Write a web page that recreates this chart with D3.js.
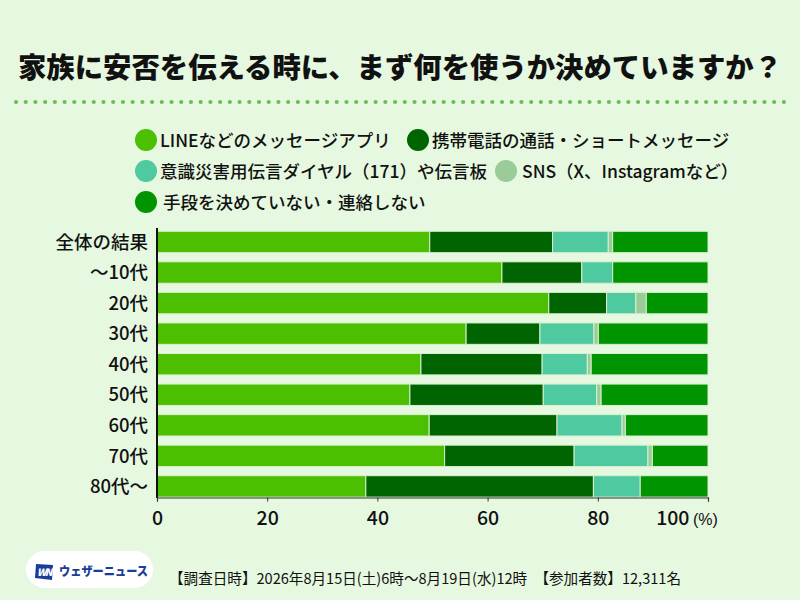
<!DOCTYPE html>
<html><head><meta charset="utf-8">
<script src="https://cdn.jsdelivr.net/npm/d3@7"></script>
<style>body{margin:0;background:#e6f8e0;}svg{display:block;}</style>
</head><body>
<svg id="c" width="800" height="600"></svg>
<script>
const categories = ["全体の結果","～10代","20代","30代","40代","50代","60代","70代","80代～"];
const seriesNames = ["LINEなどのメッセージアプリ","携帯電話の通話・ショートメッセージ","意識災害用伝言ダイヤル（171）や伝言板","SNS（X、Instagramなど）","手段を決めていない・連絡しない"];
const seriesColors = ["#4cbf00","#006400","#4fc9a0","#99cc99","#009400"];
const lineApp   = [49.5, 62.6, 71.1, 56.1, 47.9, 45.9, 49.4, 52.2, 37.9];
const phoneCall = [22.3, 14.5, 10.5, 13.4, 22.0, 24.2, 23.2, 23.5, 41.3];
const dial171   = [10.1,  5.6,  5.3,  9.8,  8.2,  9.7, 11.8, 13.4,  8.5];
const sns       = [ 0.8,  0.0,  1.9,  0.8,  0.7,  0.8,  0.6,  0.8,  0.0];
const undecided = [17.3, 17.3, 11.2, 19.9, 21.2, 19.4, 15.0, 10.1, 12.3];
const xTicks = [0,20,40,60,80,100];
const title = "家族に安否を伝える時に、まず何を使うか決めていますか？";
const footer = "【調査日時】2026年8月15日(土)6時～8月19日(水)12時　【参加者数】12,311名";

const FONT = "'Noto Sans CJK JP','Noto Sans',sans-serif";
const svg = d3.select("#c").style("font-family", FONT);
svg.append("rect").attr("width",800).attr("height",600).attr("fill","#e6f8e0");

// title
svg.append("text").attr("x",400).attr("y",78).attr("text-anchor","middle")
  .attr("font-size",28.5).attr("font-weight",900).attr("fill","#111")
  .attr("textLength",764).attr("lengthAdjust","spacingAndGlyphs").text(title);
// dotted rule
svg.append("line").attr("x1",16).attr("x2",786).attr("y1",102).attr("y2",102)
  .attr("stroke","#6dbd55").attr("stroke-width",4.2).attr("stroke-linecap","round")
  .attr("stroke-dasharray","0 9.72");

// legend
const legendPos = [[146,140],[418,140],[146,171],[506,171],[146,202]];
const lg = svg.append("g");
seriesNames.forEach((n,i)=>{
  const [cx,cy] = legendPos[i];
  lg.append("circle").attr("cx",cx).attr("cy",cy).attr("r",11).attr("fill",seriesColors[i]);
  lg.append("text").attr("x",cx+14 + (i===4?3:0) + (i===3?2:0)).attr("y",cy+6.5)
    .attr("font-size",17.5).attr("font-weight",500).attr("fill","#111").text(n);
});

// data table
const keys = ["lineApp","phoneCall","dial171","sns","undecided"];
const arrs = [lineApp, phoneCall, dial171, sns, undecided];
const table = categories.map((c,i)=>{const o={cat:c}; keys.forEach((k,j)=>o[k]=arrs[j][i]); return o;});
const stack = d3.stack().keys(keys)(table);

const x = d3.scaleLinear().domain([0,100]).range([157,708]);
const y = d3.scaleBand().domain(categories).range([226.7,501.7]).paddingInner(0.3).paddingOuter(0.15);

const bars = svg.append("g");
stack.forEach((layer,j)=>{
  bars.selectAll(null).data(layer).enter().append("rect")
    .attr("x",d=>x(d[0])).attr("width",d=>Math.max(0,x(d[1])-x(d[0])))
    .attr("y",(d,i)=>y(categories[i])).attr("height",y.bandwidth())
    .attr("fill",seriesColors[j])
    .attr("stroke",d=> (d[1]-d[0])>0 ? "#d8f0d0" : "none").attr("stroke-width",1);
});

// y axis
const ya = svg.append("g").attr("transform","translate(157,0)")
  .call(d3.axisLeft(y).tickSize(0).tickPadding(9));
ya.select(".domain").attr("d","M0,228V498").attr("stroke","#111").attr("stroke-width",2);
ya.selectAll("text").attr("font-family",FONT).attr("font-size",18.5).attr("font-weight",500).attr("fill","#111").attr("dy","0.36em");

// x axis
const xa = svg.append("g").attr("transform","translate(0,497.5)")
  .call(d3.axisBottom(x).tickValues(xTicks).tickSize(4).tickPadding(10).tickFormat(d3.format("d")));
xa.select(".domain").attr("stroke","#333").attr("stroke-width",1.2);
xa.selectAll(".tick line").attr("stroke","#333");
xa.selectAll("text").attr("font-family",FONT).attr("font-size",19.5).attr("font-weight",500).attr("fill","#111");
xa.selectAll(".tick").filter(d=>d===100).select("text").attr("text-anchor","end").attr("dx",-19);
xa.append("text").attr("x",x(100)-15).attr("y",27).attr("text-anchor","start")
  .attr("font-size",16).attr("font-weight",500).attr("fill","#111").text("(%)");

// logo
const logo = svg.append("g");
logo.append("rect").attr("x",26).attr("y",551).attr("width",127).attr("height",37).attr("rx",18.5).attr("fill","#fff");
logo.append("path").attr("d","M36,564 L53,565 L52,580 L35,578 Z").attr("fill","#1a3d98");
logo.append("text").attr("x",44).attr("y",576).attr("text-anchor","middle").attr("font-size",10)
  .attr("font-weight",900).attr("font-style","italic").attr("fill","#fff").attr("letter-spacing",-1.5).text("WN");
logo.append("text").attr("x",59).attr("y",575.5).attr("font-size",12.5).attr("font-weight",900)
  .attr("fill","#1a3d98").attr("textLength",89).attr("lengthAdjust","spacingAndGlyphs").text("ウェザーニュース");

// footer
svg.append("text").attr("x",169).attr("y",584).attr("font-size",15).attr("fill","#111")
  .attr("textLength",512).attr("lengthAdjust","spacingAndGlyphs").text(footer);
</script>
</body></html>
